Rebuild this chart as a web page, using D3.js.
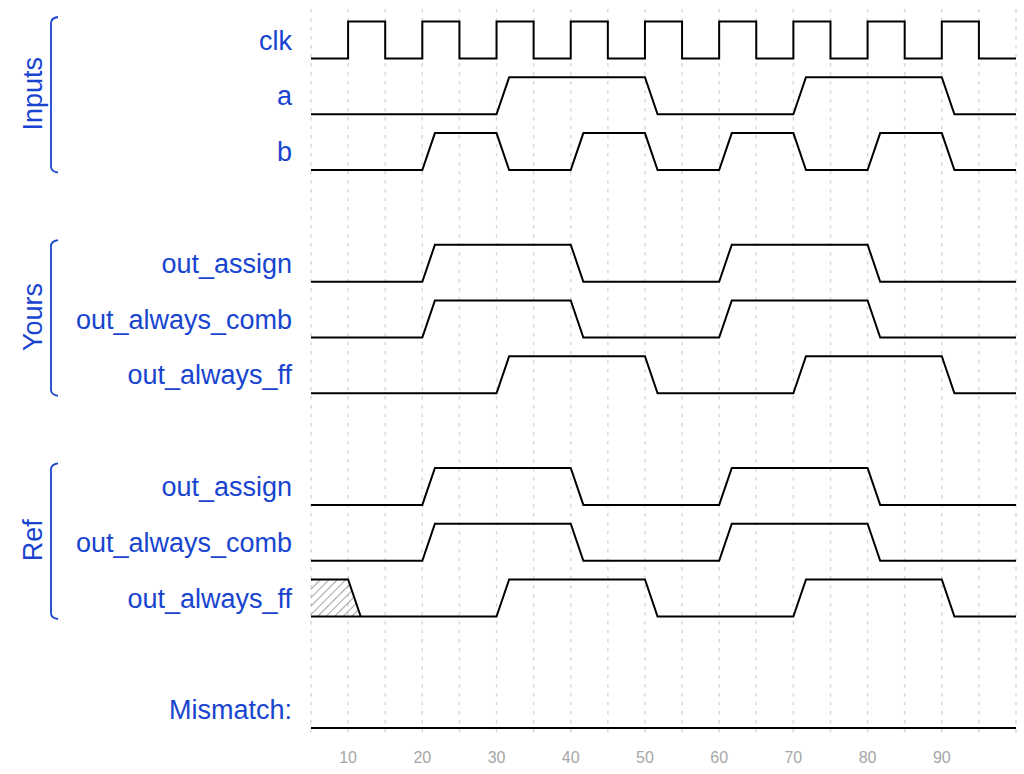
<!DOCTYPE html>
<html>
<head>
<meta charset="utf-8">
<script src="https://cdn.jsdelivr.net/npm/d3@7"></script>
<style>
  html, body { margin: 0; padding: 0; background: #fff; }
  svg { display: block; }
</style>
</head>
<body>
<svg id="chart" width="1024" height="774"></svg>
<script>
// ---------- data ----------
const timeDomain = [5, 100];
const tickLabels = [10, 20, 30, 40, 50, 60, 70, 80, 90];

const groupNames = ["Inputs", "Yours", "Ref"];

const clk = [[5,0],[10,1],[15,0],[20,1],[25,0],[30,1],[35,0],[40,1],[45,0],[50,1],
             [55,0],[60,1],[65,0],[70,1],[75,0],[80,1],[85,0],[90,1],[95,0]];
const a = [[5,0],[30,1],[50,0],[70,1],[90,0]];
const b = [[5,0],[20,1],[30,0],[40,1],[50,0],[60,1],[70,0],[80,1],[90,0]];
const yoursAssign = [[5,0],[20,1],[40,0],[60,1],[80,0]];
const yoursComb   = [[5,0],[20,1],[40,0],[60,1],[80,0]];
const yoursFF     = [[5,0],[30,1],[50,0],[70,1],[90,0]];
const refAssign   = [[5,0],[20,1],[40,0],[60,1],[80,0]];
const refComb     = [[5,0],[20,1],[40,0],[60,1],[80,0]];
const refFF       = [[5,"x"],[10,0],[30,1],[50,0],[70,1],[90,0]];
const mismatch    = [[5,0]];

const signals = [
  { name: "clk",             group: "Inputs", events: clk, clock: true },
  { name: "a",               group: "Inputs", events: a },
  { name: "b",               group: "Inputs", events: b },
  { name: "out_assign",      group: "Yours",  events: yoursAssign },
  { name: "out_always_comb", group: "Yours",  events: yoursComb },
  { name: "out_always_ff",   group: "Yours",  events: yoursFF },
  { name: "out_assign",      group: "Ref",    events: refAssign },
  { name: "out_always_comb", group: "Ref",    events: refComb },
  { name: "out_always_ff",   group: "Ref",    events: refFF },
  { name: "Mismatch:",       group: null,     events: mismatch }
];

// ---------- layout ----------
const svg = d3.select("#chart");
const blue = "#1844d0";
const fontFam = "'Liberation Sans', Arial, Helvetica, sans-serif";
const transition = 1.7;

let row = 0, prevGroup = undefined;
signals.forEach((s, i) => {
  if (i > 0 && s.group !== prevGroup) row += 1;
  s.row = row;
  prevGroup = s.group;
  row += 1;
});

const x = d3.scaleLinear().domain(timeDomain).range([311, 1016]);
const rowY = d3.scaleLinear().domain([0, 12]).range([40, 709.6]);
const halfH = 18.5;

// hatch pattern
const defs = svg.append("defs");
const pat = defs.append("pattern")
  .attr("id", "hatch").attr("patternUnits", "userSpaceOnUse")
  .attr("width", 6).attr("height", 6)
  .attr("patternTransform", "rotate(45)");
pat.append("line").attr("x1", 0).attr("y1", 0).attr("x2", 0).attr("y2", 6)
  .attr("stroke", "#666").attr("stroke-width", 1.2);

// grid
const gridTimes = d3.range(timeDomain[0], timeDomain[1] + 0.1, 5);
svg.append("g").selectAll("line").data(gridTimes).join("line")
  .attr("x1", d => x(d)).attr("x2", d => x(d))
  .attr("y1", 9).attr("y2", 737)
  .attr("stroke", "#d9d9d9").attr("stroke-width", 1.5)
  .attr("stroke-dasharray", "3.5,5.5");

// tick labels
svg.append("g").selectAll("text").data(tickLabels).join("text")
  .attr("x", d => x(d)).attr("y", 763)
  .attr("text-anchor", "middle")
  .attr("font-family", fontFam).attr("font-size", 16)
  .attr("fill", "#a6a6a6")
  .text(d => d);

// waveforms
function buildEdges(s) {
  const c = rowY(s.row);
  const hi = c - halfH, lo = c + halfH;
  const upperOf = v => v === "x" ? hi : (v ? hi : lo);
  const lowerOf = v => v === "x" ? lo : (v ? hi : lo);
  const tr = s.clock ? 0 : transition;
  const ev = s.events;
  const pts = [];
  pts.push({ t: ev[0][0], u: upperOf(ev[0][1]), l: lowerOf(ev[0][1]), x: ev[0][1] === "x" });
  for (let i = 1; i < ev.length; i++) {
    const pv = ev[i - 1][1], nv = ev[i][1];
    pts.push({ t: ev[i][0], u: upperOf(pv), l: lowerOf(pv), x: pv === "x" });
    pts.push({ t: ev[i][0] + tr, u: upperOf(nv), l: lowerOf(nv), x: pv === "x" });
  }
  const last = ev[ev.length - 1][1];
  pts.push({ t: timeDomain[1], u: upperOf(last), l: lowerOf(last), x: last === "x" });
  return pts;
}

const wg = svg.append("g");
signals.forEach(s => {
  const pts = buildEdges(s);
  const xPts = pts.filter(p => p.x);
  if (xPts.length) {
    wg.append("path")
      .attr("d", d3.area().x(p => x(p.t)).y0(p => p.l).y1(p => p.u)(xPts))
      .attr("fill", "url(#hatch)").attr("stroke", "none");
    wg.append("path")
      .attr("d", d3.line().x(p => x(p.t)).y(p => p.u)(xPts))
      .attr("fill", "none").attr("stroke", "#000").attr("stroke-width", 2);
  }
  wg.append("path")
    .attr("d", d3.line().x(p => x(p.t)).y(p => p.l)(pts))
    .attr("fill", "none").attr("stroke", "#000").attr("stroke-width", 2);
});

// signal labels
svg.append("g").selectAll("text").data(signals).join("text")
  .attr("x", 292).attr("y", d => rowY(d.row) + 9.5)
  .attr("text-anchor", "end")
  .attr("font-family", fontFam).attr("font-size", 27)
  .attr("fill", blue)
  .text(d => d.name);

// group brackets and labels
groupNames.forEach(g => {
  const rows = signals.filter(s => s.group === g).map(s => s.row);
  const top = rowY(d3.min(rows)) - 23;
  const bot = rowY(d3.max(rows)) + 21;
  const bx = 51;
  const p = d3.path();
  p.moveTo(bx + 7, top);
  p.quadraticCurveTo(bx, top + 1, bx, top + 6);
  p.lineTo(bx, bot - 6);
  p.quadraticCurveTo(bx, bot - 1, bx + 7, bot);
  svg.append("path").attr("d", p.toString())
    .attr("fill", "none").attr("stroke", blue).attr("stroke-width", 1.8);
  const mid = (rowY(d3.min(rows)) + rowY(d3.max(rows))) / 2 - 2;
  svg.append("text")
    .attr("transform", `translate(42,${mid}) rotate(-90)`)
    .attr("text-anchor", "middle")
    .attr("font-family", fontFam).attr("font-size", 27)
    .attr("fill", blue)
    .text(g);
});
</script>
</body>
</html>
